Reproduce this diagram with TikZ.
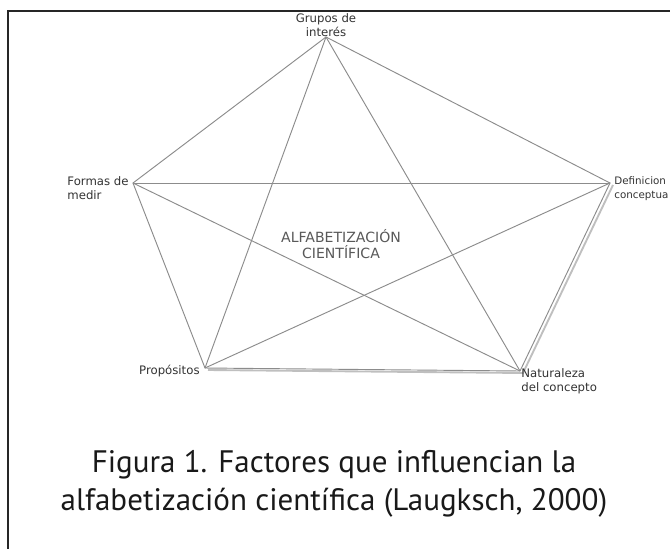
\documentclass[tikz,border=0pt]{standalone}
\usepackage{fontspec}
\setmainfont{DejaVu Sans}
\newfontfamily\capfont{PT Sans}
\usepackage{tikz}
\usetikzlibrary{positioning}
\tikzstyle{lado}=[draw=black!45, line width=0.8pt]
\tikzstyle{sombra}=[draw=black!25, line width=1.6pt]
\tikzstyle{etiq}=[inner sep=1pt, text=black!80, font=\fontsize{10}{12}\selectfont]
\tikzstyle{centro}=[align=center, text=black!65, font=\fontsize{12}{13.5}\selectfont]
\tikzstyle{pie}=[align=center, text=black!90, font=\capfont\fontsize{26.5}{32}\selectfont]

\begin{document}
\begin{tikzpicture}[x=0.03cm, y=-0.03cm]
\clip (0,0) rectangle (670,548);
\fill[white] (0,0) rectangle (670,548);
\draw[black!85, line width=1.6pt] (8,11) rectangle (690,570);
% vertices
\coordinate (vgrupos) at (326,37);
\coordinate (vformas) at (133,183);
\coordinate (vdefinicion) at (610,183);
\coordinate (vpropositos) at (205,368);
\coordinate (vnaturaleza) at (520,371);
% shadow on the lower right sides
\draw[sombra] ([shift={(3,2)}]vdefinicion) -- ([shift={(3,2)}]vnaturaleza) -- ([shift={(3,2)}]vpropositos);
% pentagon
\draw[lado] (vgrupos) -- (vdefinicion) -- (vnaturaleza) -- (vpropositos) -- (vformas) -- cycle;
% star
\draw[lado] (vgrupos) -- (vpropositos);
\draw[lado] (vgrupos) -- (vnaturaleza);
\draw[lado] (vformas) -- (vdefinicion);
\draw[lado] (vformas) -- (vnaturaleza);
\draw[lado] (vdefinicion) -- (vpropositos);
% labels
\node[etiq, align=left, anchor=south] (grupos) at ([yshift=-1]vgrupos) {Grupos de\\\hfil interés\hfil};
\node[etiq, align=left, anchor=north east] (formas) at ([shift={(-3,-8)}]vformas) {Formas de\\medir};
\node[etiq, align=left, anchor=north west, font=\fontsize{8.8}{12}\selectfont] (definicion) at ([shift={(3,-8)}]vdefinicion) {Definicion\\conceptua};
\node[etiq, anchor=east] (propositos) at ([shift={(-4,3)}]vpropositos) {Propósitos};
\node[etiq, align=left, anchor=north west] (naturaleza) at ([shift={(0,-4)}]vnaturaleza) {Naturaleza\\del concepto};
\node[centro] (alfabetizacion) at (341,244) {ALFABETIZACIÓN\\CIENTÍFICA};
\node[pie] (figura) at (334,484) {Figura 1. Factores que influencian la\\alfabetización científica (Laugksch, 2000)};
\end{tikzpicture}
\end{document}
